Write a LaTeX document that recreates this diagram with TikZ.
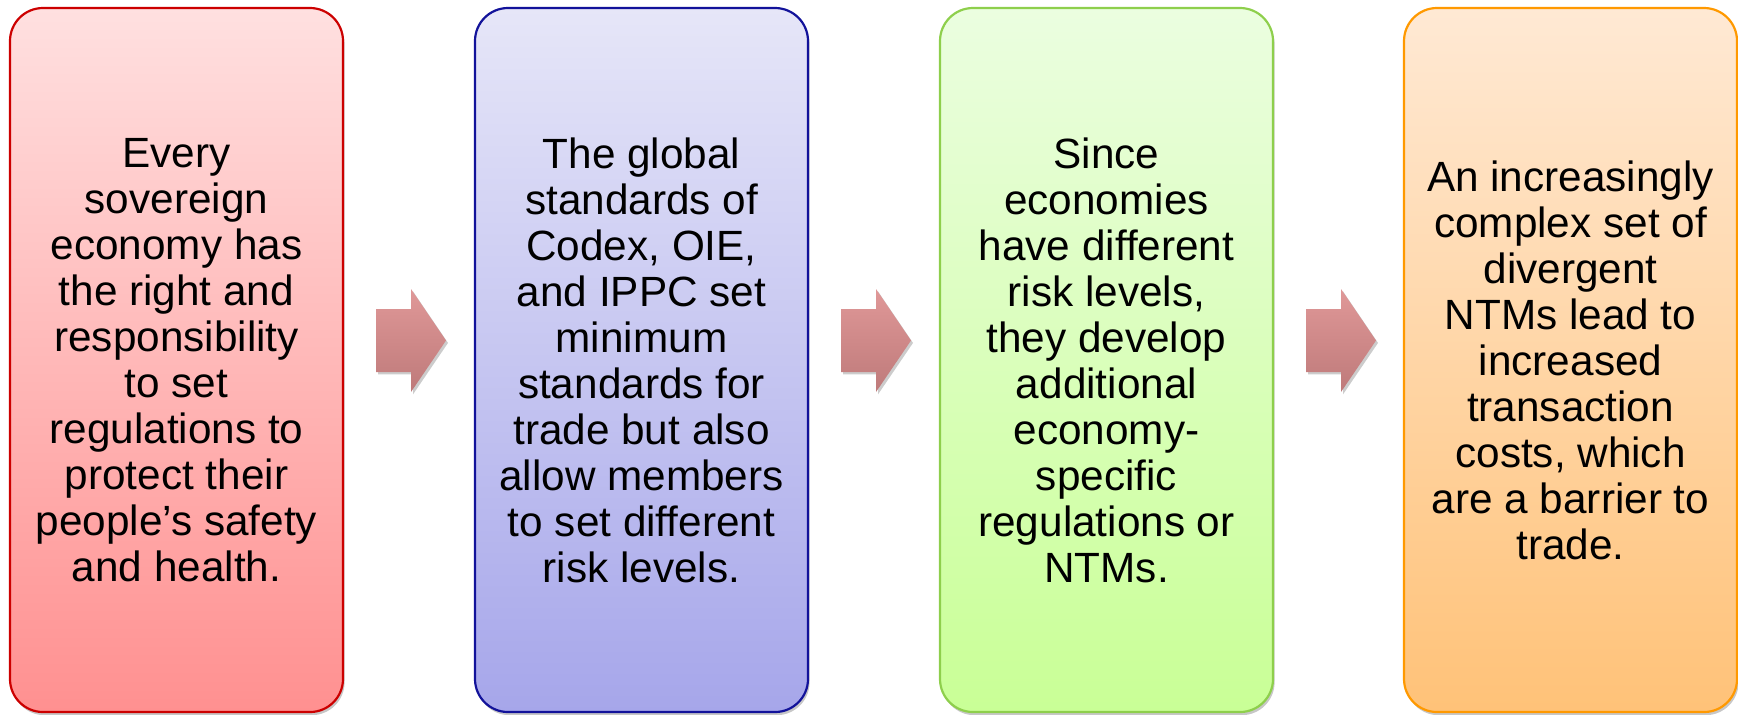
\documentclass[tikz,border=0pt]{standalone}
\usepackage{fontspec}
\setmainfont{Liberation Sans}
\usetikzlibrary{shadows}
\definecolor{redtop}{HTML}{FFE0E0}
\definecolor{redbot}{HTML}{FF9090}
\definecolor{redline}{HTML}{CC0000}
\definecolor{bluetop}{HTML}{E6E6F8}
\definecolor{bluebot}{HTML}{A6A6EA}
\definecolor{blueline}{HTML}{12129A}
\definecolor{greentop}{HTML}{EBFEE0}
\definecolor{greenbot}{HTML}{C9FF96}
\definecolor{greenline}{HTML}{8ECF4C}
\definecolor{orangetop}{HTML}{FFE9D4}
\definecolor{orangebot}{HTML}{FFC278}
\definecolor{orangeline}{HTML}{FF9900}
\definecolor{arrtop}{HTML}{E09898}
\definecolor{arrbot}{HTML}{BE7A7A}
\begin{document}
\begin{tikzpicture}[x=0.5pt,y=-0.5pt,
  stepbox/.style={rounded corners=16.5pt, minimum width=166.5pt, minimum height=352pt,
    line width=1.1pt, align=center, inner sep=0pt,
    font=\fontsize{21.15}{23}\selectfont,
    drop shadow={shadow xshift=0.8pt, shadow yshift=-1.6pt, opacity=0.22, fill=black}},
  redbox/.style={stepbox, draw=redline, top color=redtop, bottom color=redbot},
  bluebox/.style={stepbox, draw=blueline, top color=bluetop, bottom color=bluebot},
  greenbox/.style={stepbox, draw=greenline, top color=greentop, bottom color=greenbot},
  orangebox/.style={stepbox, draw=orangeline, top color=orangetop, bottom color=orangebot},
  blockarrow/.style={top color=arrtop, bottom color=arrbot,
    drop shadow={shadow xshift=1pt, shadow yshift=-1.2pt, opacity=0.2, fill=black}}
]
\useasboundingbox (0,0) rectangle (1738,714);

\node[redbox] (b1) at (176.5,360) {Every\\sovereign\\economy has\\the right and\\responsibility\\to set\\regulations to\\protect their\\people’s safety\\and health.};
\node[bluebox] (b2) at (641.5,360) {The global\\standards of\\Codex, OIE,\\and IPPC set\\minimum\\standards for\\trade but also\\allow members\\to set different\\risk levels.};
\node[greenbox] (b3) at (1106.5,360) {Since\\economies\\have different\\risk levels,\\they develop\\additional\\economy-\\specific\\regulations or\\NTMs.};
\node[orangebox] (b4) at (1570.5,360) {An increasingly\\complex set of\\divergent\\NTMs lead to\\increased\\transaction\\costs, which\\are a barrier to\\trade.};

\foreach \dx in {0,465,930} {
  \path[blockarrow, shift={(\dx,0)}] (376,309) -- (411,309) -- (411,289) -- (446,340.5)
    -- (411,392) -- (411,372) -- (376,372) -- cycle;
}
\end{tikzpicture}
\end{document}
